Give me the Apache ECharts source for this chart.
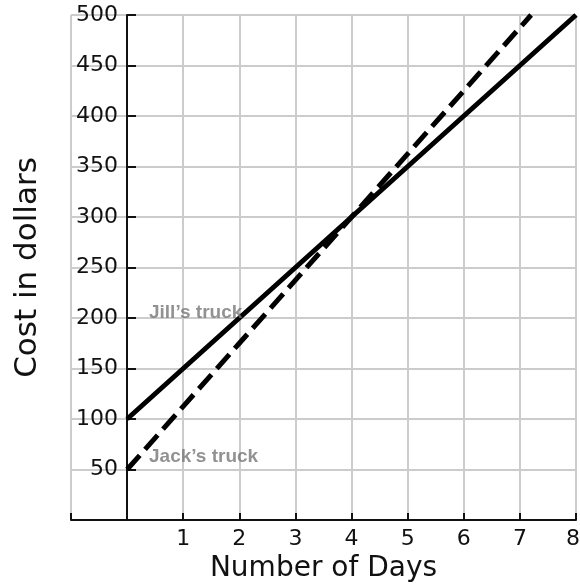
<!DOCTYPE html>
<html>
<head>
<meta charset="utf-8">
<script src="https://cdn.jsdelivr.net/npm/echarts@6/dist/echarts.min.js"></script>
<style>html,body{margin:0;padding:0;background:#fff}#c{width:580px;height:584px}</style>
</head>
<body>
<div id="c"></div>
<script>
var jillDays = [0, 1, 2, 3, 4, 5, 6, 7, 8];
var jillCost = [100, 150, 200, 250, 300, 350, 400, 450, 500];
var jackDays = [0, 1, 2, 3, 4, 5, 6, 7, 7.2];
var jackCost = [50, 112.5, 175, 237.5, 300, 362.5, 425, 487.5, 500];
var labelNames = ['Jill\u2019s truck', 'Jack\u2019s truck'];
var labelPos = [[0.39, 196], [0.39, 53.5]];
var xTickLabels = ['1', '2', '3', '4', '5', '6', '7', '8'];
var yTickLabels = ['50', '100', '150', '200', '250', '300', '350', '400', '450', '500'];

function pairs(xs, ys) { return xs.map(function (x, i) { return [x, ys[i]]; }); }

var chart = echarts.init(document.getElementById('c'));
chart.setOption({
  animation: false,
  grid: { left: 71, right: 4, top: 15, bottom: 64, containLabel: false, outerBoundsMode: 'none' },
  xAxis: {
    type: 'value', min: -1, max: 8, interval: 1,
    name: 'Number of Days', nameLocation: 'middle', nameGap: 24,
    nameTextStyle: { fontFamily: 'DejaVu Sans', fontSize: 28, color: '#111' },
    axisLine: { show: true, onZero: true, lineStyle: { color: '#111', width: 2 } },
    axisTick: { show: true, inside: true, length: 7, lineStyle: { color: '#111', width: 2 } },
    axisLabel: {
      margin: 8, fontFamily: 'DejaVu Sans', fontSize: 22, color: '#111',
      formatter: function (v) {
        var s = String(v);
        if (xTickLabels.indexOf(s) < 0) return '';
        return s === xTickLabels[xTickLabels.length - 1] ? '{last|' + s + '}' : s;
      },
      rich: { last: { fontFamily: 'DejaVu Sans', fontSize: 22, color: '#111', padding: [0, 6, 0, 0] } }
    },
    splitLine: { show: true, lineStyle: { color: '#cccccc', width: 2 } }
  },
  yAxis: {
    type: 'value', min: 0, max: 500, interval: 50,
    offset: -56,
    name: 'Cost in dollars', nameLocation: 'middle', nameGap: 84,
    nameTextStyle: { fontFamily: 'DejaVu Sans', fontSize: 31, color: '#111' },
    axisLine: { show: true, onZero: false, lineStyle: { color: '#111', width: 2 } },
    axisTick: { show: true, inside: true, length: 9, lineStyle: { color: '#111', width: 2 } },
    axisLabel: {
      margin: 9, fontFamily: 'DejaVu Sans', fontSize: 22, color: '#111',
      formatter: function (v) { var s = String(v); return yTickLabels.indexOf(s) >= 0 ? s : ''; }
    },
    splitLine: { show: true, lineStyle: { color: '#cccccc', width: 2 } }
  },
  series: [
    {
      type: 'line', data: pairs(jillDays, jillCost), symbol: 'none',
      lineStyle: { color: '#000', width: 5, type: 'solid' }, z: 5
    },
    {
      type: 'line', data: pairs(jackDays, jackCost), symbol: 'none',
      lineStyle: { color: '#000', width: 5, type: [19, 8] }, z: 5
    },
    {
      type: 'scatter', symbolSize: 0, z: 6,
      data: labelPos.map(function (p, i) { return { value: p, name: labelNames[i] }; }),
      label: {
        show: true, position: [0, 0], align: 'left', verticalAlign: 'bottom',
        formatter: function (p) { return p.name; },
        fontFamily: 'Liberation Sans', fontWeight: 'bold', fontSize: 19, color: '#777777'
      }
    }
  ]
});
</script>
</body>
</html>
